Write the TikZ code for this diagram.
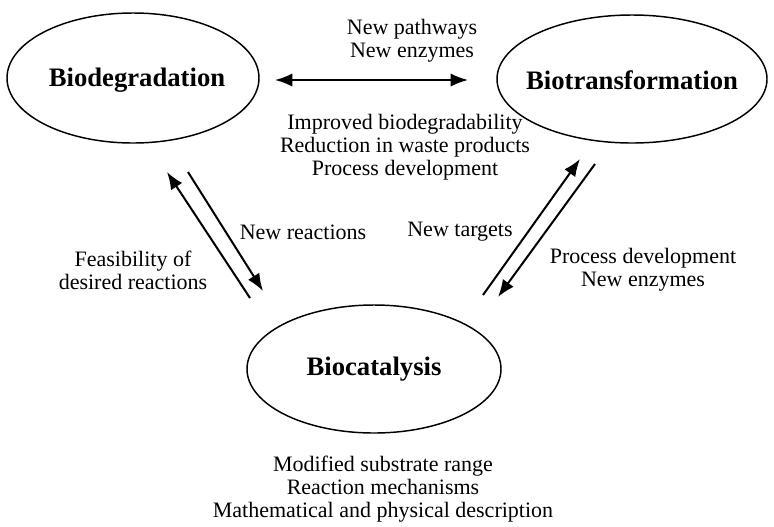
\documentclass[tikz,border=0pt]{standalone}
\usepackage{fontspec}
\setmainfont{Liberation Serif}
\usepackage{tikz}
\usetikzlibrary{shapes.geometric,arrows.meta}

\begin{document}
\begin{tikzpicture}[x=0.75pt,y=-0.75pt]

%
% Styles
%
\tikzstyle{field} = [ellipse,draw,line width=1.1pt,inner sep=0pt]
\tikzstyle{title} = [inner sep=0pt,font=\fontsize{20}{22}\selectfont\bfseries]
\tikzstyle{edge}  = [-{Latex[length=13pt,width=10pt]},line width=1.5pt]
\tikzstyle{both}  = [{Latex[length=13pt,width=10pt]}-{Latex[length=13pt,width=10pt]},line width=1.5pt]
\tikzstyle{label} = [align=center,inner sep=0pt,font=\fontsize{16.5}{17.25}\selectfont]

\useasboundingbox (0,0) rectangle (774,526);

\node[field,minimum width=189pt,minimum height=97.5pt] (bd) at (133,78)  {};
\node[field,minimum width=202.5pt,minimum height=96pt]  (bt) at (632,79)  {};
\node[field,minimum width=190.5pt,minimum height=96pt]  (bc) at (374,369) {};
\node[title] (bdT) at (137,80)  {Biodegradation};
\node[title] (btT) at (632,80)  {Biotransformation};
\node[title] (bcT) at (374,369) {Biocatalysis};

% arrow ends
\coordinate (bdE) at (275,80);
\coordinate (btW) at (468,80);
\coordinate (bdUp)  at (167,172);
\coordinate (bcUpL) at (250,298);
\coordinate (bdDn)  at (188,172);
\coordinate (bcDnL) at (263,291);
\coordinate (bcUpR) at (483,295);
\coordinate (btUp)  at (580,159);
\coordinate (btDn)  at (595,164);
\coordinate (bcDnR) at (498,297);

\draw[both] (bdE) -- (btW);
\draw[edge] (bcUpL) -- (bdUp);
\draw[edge] (bdDn) -- (bcDnL);
\draw[edge] (bcUpR) -- (btUp);
\draw[edge] (btDn) -- (bcDnR);

\node[label] (path)   at (412,41)  {New pathways\\New enzymes};
\node[label] (impr)   at (405,147) {Improved biodegradability\\Reduction in waste products\\Process development};
\node[label] (feas)   at (133,270) {Feasibility of\\desired reactions};
\node[label] (react)  at (303,232) {New reactions};
\node[label] (target) at (460,232) {New targets};
\node[label] (proc)   at (643,270) {Process development\\New enzymes};
\node[label] (subs)   at (383,489) {Modified substrate range\\Reaction mechanisms\\Mathematical and physical description};

\end{tikzpicture}
\end{document}
